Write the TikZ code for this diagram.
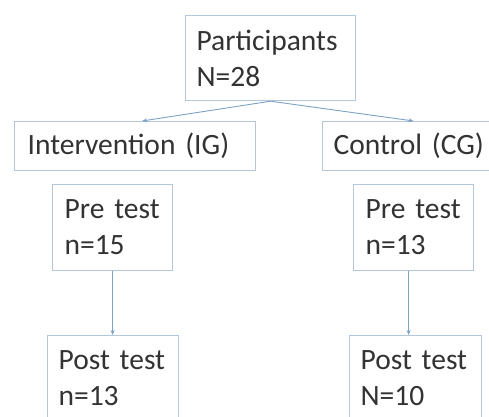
\documentclass[tikz,border=0pt]{standalone}
\usepackage{fontspec}
\setmainfont{Carlito}
\usepackage{xcolor}
\usepackage{tikz}
\usetikzlibrary{arrows.meta,positioning,calc}
\definecolor{boxline}{HTML}{B4C6D9}
\definecolor{arrowblue}{HTML}{7EA2C6}
\definecolor{textgray}{HTML}{333333}

\begin{document}
\begin{tikzpicture}[x=1pt,y=1pt,
  box/.style={draw=boxline, line width=1.2pt, text=textgray, anchor=north west,
    align=left, inner ysep=0pt, font=\fontsize{29.5}{36}\selectfont},
  arr/.style={->, >={Stealth[length=5pt,width=4pt]}, draw=arrowblue, line width=0.9pt}]
\useasboundingbox (0,0) rectangle (489,-416);
\fill[white] (0,0) rectangle (489,-416);
% top box
\node[box, minimum width=170, minimum height=85, text width=148, inner xsep=11pt] (part) at (185,-15) {Participants\\N=28};
% the two groups
\node[box, minimum width=241, minimum height=49, text width=215, inner xsep=13pt] (interv) at (14,-121) {Intervention (IG)};
\node[box, minimum width=170, minimum height=49, text width=160, inner xsep=11pt] (ctrl) at (322,-121) {Control (CG)};
% tests
\node[box, minimum width=120, minimum height=86, text width=100, inner xsep=10pt] (preI) at (52,-184) {\hspace{2pt}Pre test\\\hspace{2pt}n=15};
\node[box, minimum width=120, minimum height=86, text width=100, inner xsep=10pt] (preC) at (353,-184) {\hspace{2pt}Pre test\\\hspace{2pt}n=13};
\node[box, minimum width=131, minimum height=86, text width=109, inner xsep=11pt] (postI) at (47,-335) {Post test\\n=13};
\node[box, minimum width=132, minimum height=86, text width=110, inner xsep=11pt] (postC) at (349,-335) {Post test\\N=10};
% arrows
\draw[arr] (part.south) -- ($(interv.north)+(7,0)$);
\draw[arr] (part.south) -- (ctrl.north);
\draw[arr] (preI.south) -- (postI.north -| preI.south);
\draw[arr] ([xshift=-5pt]preC.south) -- ([xshift=-5pt]preC.south |- postC.north);
\end{tikzpicture}
\end{document}
